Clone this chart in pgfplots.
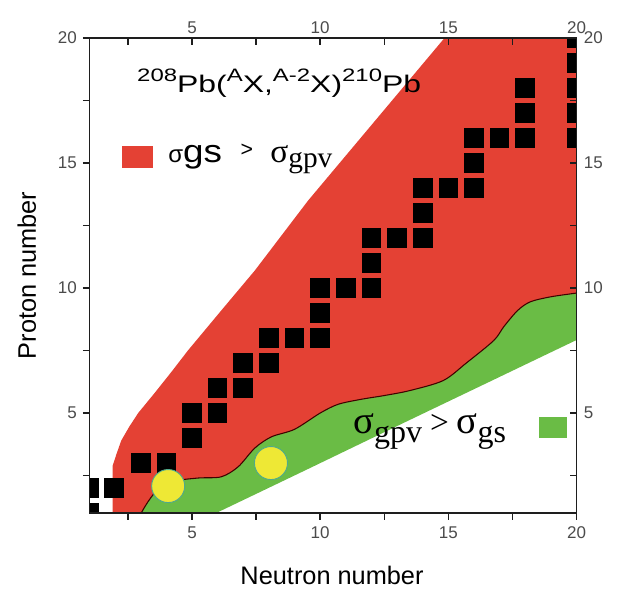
\documentclass[border=0pt]{standalone}
\usepackage{pgfplots}
\pgfplotsset{compat=1.18}
\usepackage{fontspec}
\setmainfont{Liberation Sans}
\newfontfamily\seriffont{Liberation Serif}
\definecolor{regred}{RGB}{228,65,52}
\definecolor{reggreen}{RGB}{106,188,69}
\definecolor{dotyellow}{RGB}{238,232,53}
\definecolor{dotedge}{RGB}{80,170,140}
\definecolor{axgray}{RGB}{30,30,30}
\begin{document}
\begin{tikzpicture}
\path[use as bounding box] (-67.1pt,-57pt) rectangle (395.6pt,384.75pt);
% legend text drawn first so that the red area covers its end
\node[anchor=base west, inner sep=0pt] at (58.9pt,263.25pt) {{\fontsize{18}{18}\selectfont σ}\scalebox{1.15}[1]{\fontsize{24}{24}\selectfont gs}\hspace{14pt}\raisebox{4pt}{\fontsize{16}{16}\selectfont >}\hspace{13pt}{\seriffont\fontsize{25}{25}\selectfont σ\raisebox{-4pt}{\fontsize{22}{22}\selectfont gpv}}};
\begin{axis}[
  name=main,
  at={(0pt,0pt)}, anchor=south west,
  scale only axis, width=365.25pt, height=356.25pt,
  xmin=1, xmax=20, ymin=1, ymax=20,
  clip marker paths=true,
  axis line style={axgray, line width=1.1pt},
  every tick/.style={axgray, line width=1.1pt},
  tick align=outside,
  major tick length=5pt, minor tick length=5pt,
  xtick={5,10,15,20}, ytick={5,10,15,20},
  minor xtick={2.5,7.5,12.5,17.5}, minor ytick={2.5,7.5,12.5,17.5},
  xtick pos=bottom, ytick pos=left,
  /pgf/number format/assume math mode=true,
  tick label style={font=\fontsize{12.75}{12.75}\selectfont, text=axgray!80},
  xticklabel style={yshift=-2pt},
  yticklabel style={xshift=-1pt},
  xlabel={Neutron number}, ylabel={Proton number},
  label style={font=\fontsize{19}{19}\selectfont},
  x label style={at={(axis description cs:0.498,-0.1305)}, anchor=center},
  y label style={at={(axis description cs:-0.1284,0.5)}, anchor=center, rotate=0},
]
% red region (gs dominates)
\addplot[fill=regred, draw=none] coordinates {
 (1.9,0.5) (1.9,2.88) (2.05,3.35) (2.24,3.9) (2.55,4.45) (2.9,5.0) (3.54,5.8)
 (4.2,6.65) (4.84,7.5) (6.14,9.1) (7.45,10.7) (8.75,12.45) (9.53,13.5) (14.85,20)
 (14.95,20.5) (20.5,20.5) (20.5,8.8) (6,1.4) (3.0,0.5)
};
% green region (gpv dominates)
\addplot[fill=reggreen, draw=none, smooth, tension=0.5] coordinates {
 (2.85,0.4) (3.02,1) (3.54,1.8) (4.19,2.25) (5.23,2.4) (6.14,2.45) (6.8,2.85)
 (7.45,3.6) (8.1,4.05) (9.0,4.35) (10.0,5.0) (10.7,5.35) (11.6,5.55) (12.5,5.7)
 (13.5,5.9) (14.8,6.3) (15.7,7.0) (16.77,7.9) (17.16,8.45) (17.7,9.1) (18.2,9.45)
 (19.0,9.65) (20,9.8) (20.6,9.9) (20.6,8.2) (20,7.92) (16.5,6.2) (13,4.48)
 (9.5,2.75) (5.9,0.98) (4.9,0.49)
};
% boundary line
\addplot[smooth, tension=0.5, draw=black!75!red, line width=0.8pt] coordinates {
 (2.85,0.4) (3.02,1) (3.54,1.8) (4.19,2.25) (5.23,2.4) (6.14,2.45) (6.8,2.85)
 (7.45,3.6) (8.1,4.05) (9.0,4.35) (10.0,5.0) (10.7,5.35) (11.6,5.55) (12.5,5.7)
 (13.5,5.9) (14.8,6.3) (15.7,7.0) (16.77,7.9) (17.16,8.45) (17.7,9.1) (18.2,9.45)
 (19.0,9.65) (20,9.8) (20.6,9.9)
};
% measured nuclei
\addplot[only marks, mark=square*, mark size=7pt, mark options={fill=black, draw=black, line width=0pt}] coordinates {
 (1,1) (1,2) (1.95,2) (3,3) (4,3) (5,4) (5,5) (6,5) (6,6) (7,6) (7,7) (8,7) (8,8)
 (9,8) (10,8) (10,9) (10,10) (11,10) (12,10) (12,11) (12,12) (13,12) (14,12)
 (14,13) (14,14) (15,14) (16,14) (16,15) (16,16) (17,16) (18,16) (18,17) (18,18)
 (20,16) (20,17) (20,18) (20,19) (20,20)
};
\addplot[only marks, mark=*, mark size=12.4pt, mark options={fill=dotyellow, draw=dotedge, line width=0.7pt}] coordinates {
 (4.07,2.08) (8.08,3.0)
};
\end{axis}
\begin{axis}[
  at={(0pt,0pt)}, anchor=south west,
  scale only axis, width=365.25pt, height=356.25pt,
  xmin=1, xmax=20, ymin=1, ymax=20,
  axis line style={axgray, line width=1.1pt},
  every tick/.style={axgray, line width=1.1pt},
  tick align=inside,
  major tick length=5pt, minor tick length=5pt,
  xtick={5,10,15,20}, ytick={5,10,15,20},
  minor xtick={2.5,7.5,12.5,17.5}, minor ytick={2.5,7.5,12.5,17.5},
  xtick pos=top, ytick pos=right,
  xticklabel pos=top, yticklabel pos=right,
  /pgf/number format/assume math mode=true,
  tick label style={font=\fontsize{12.75}{12.75}\selectfont, text=axgray!80},
  yticklabel style={xshift=2pt},
]
\end{axis}
% reaction title (drawn on top of the red area)
\node[anchor=base west, inner sep=0pt] at (35.6pt,315.75pt) {\scalebox{1.33}[1]{\fontsize{18}{18}\selectfont\raisebox{8pt}{\fontsize{13.5}{13.5}\selectfont 208}Pb(\raisebox{8pt}{\fontsize{13.5}{13.5}\selectfont A}X,\raisebox{8pt}{\fontsize{13.5}{13.5}\selectfont A-2}X)\raisebox{8pt}{\fontsize{13.5}{13.5}\selectfont 210}Pb}};
% legend swatches
\fill[regred] (24.4pt,258.75pt) rectangle (47.6pt,275.25pt);
\fill[reggreen] (337.1pt,56.25pt) rectangle (358.1pt,72pt);
\node[anchor=base west, inner sep=0pt] at (197.6pt,60pt) {\seriffont{\fontsize{29}{29}\selectfont σ\raisebox{-7pt}{\fontsize{24}{24}\selectfont gpv}}\hspace{6pt}{\fontsize{25}{25}\selectfont >}\hspace{6pt}{\fontsize{29}{29}\selectfont σ\raisebox{-7pt}{\fontsize{24}{24}\selectfont gs}}};
\end{tikzpicture}
\end{document}
